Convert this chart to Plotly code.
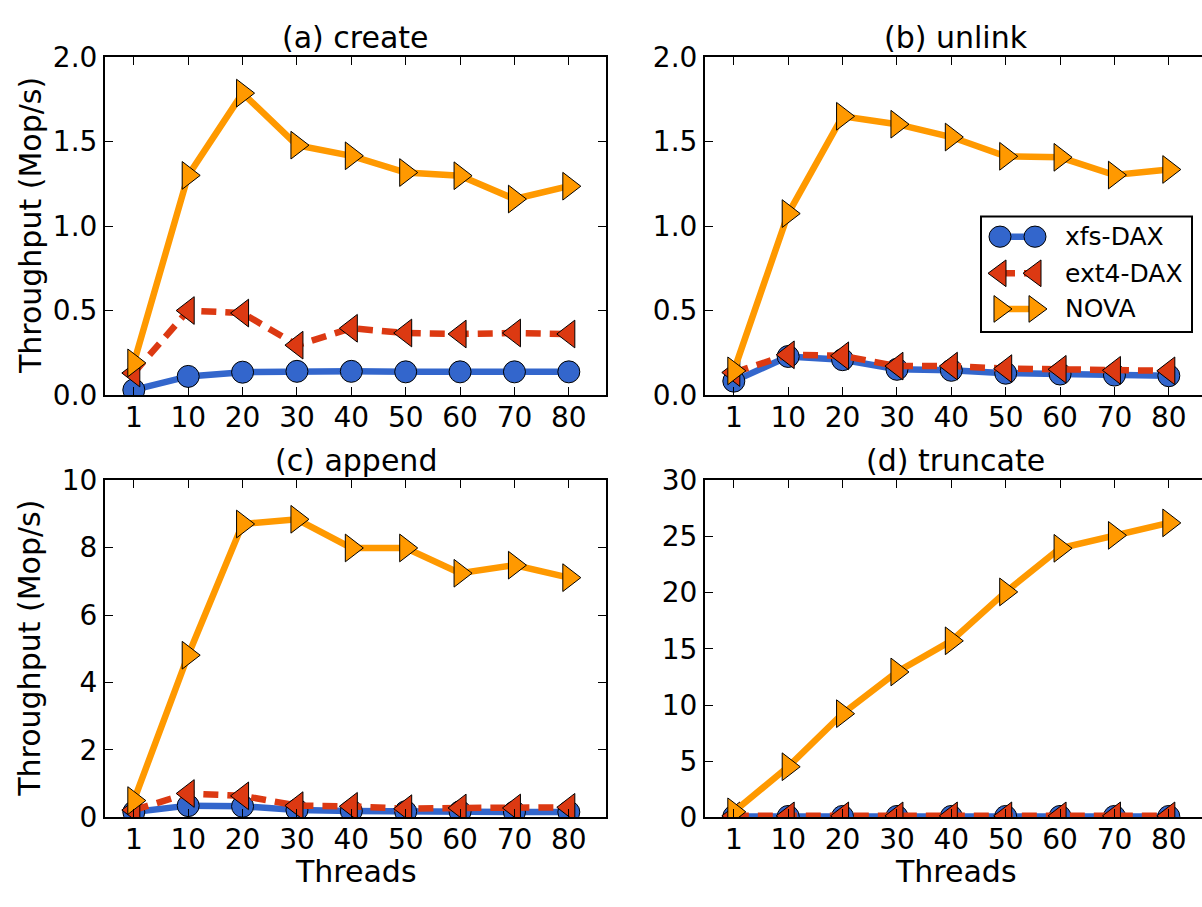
import plotly.graph_objects as go

# Thread counts on the x axis (drawn as evenly spaced categories)
threads = ["1", "10", "20", "30", "40", "50", "60", "70", "80"]

# Throughput in Mop/s
create_xfs = [0.03, 0.11, 0.135, 0.14, 0.14, 0.137, 0.137, 0.137, 0.137]
create_ext4 = [0.13, 0.50, 0.485, 0.295, 0.395, 0.367, 0.361, 0.367, 0.361]
create_nova = [0.19, 1.30, 1.787, 1.479, 1.416, 1.317, 1.298, 1.16, 1.236]

unlink_xfs = [0.082, 0.228, 0.209, 0.152, 0.146, 0.129, 0.124, 0.118, 0.114]
unlink_ext4 = [0.133, 0.238, 0.232, 0.171, 0.171, 0.156, 0.152, 0.146, 0.143]
unlink_nova = [0.143, 1.074, 1.65, 1.603, 1.527, 1.413, 1.407, 1.302, 1.335]

append_xfs = [0.16, 0.35, 0.33, 0.22, 0.19, 0.17, 0.17, 0.16, 0.16]
append_ext4 = [0.22, 0.71, 0.64, 0.35, 0.33, 0.26, 0.28, 0.28, 0.30]
append_nova = [0.50, 4.81, 8.70, 8.84, 7.99, 7.99, 7.24, 7.48, 7.11]

truncate_xfs = [0.09, 0.09, 0.09, 0.09, 0.09, 0.09, 0.09, 0.09, 0.09]
truncate_ext4 = [0.14, 0.14, 0.14, 0.14, 0.14, 0.14, 0.14, 0.14, 0.14]
truncate_nova = [0.50, 4.51, 9.23, 12.94, 15.71, 20.06, 23.94, 25.09, 26.20]

panel_titles = ["(a) create", "(b) unlink", "(c) append", "(d) truncate"]
series_names = ["xfs-DAX", "ext4-DAX", "NOVA"]

panels = [
    (create_xfs, create_ext4, create_nova),
    (unlink_xfs, unlink_ext4, unlink_nova),
    (append_xfs, append_ext4, append_nova),
    (truncate_xfs, truncate_ext4, truncate_nova),
]
y_ticks = [
    [0.0, 0.5, 1.0, 1.5, 2.0],
    [0.0, 0.5, 1.0, 1.5, 2.0],
    [0, 2, 4, 6, 8, 10],
    [0, 5, 10, 15, 20, 25, 30],
]

W, H = 1202, 907
FONT = "DejaVu Sans"
BLUE, RED, ORANGE = "#3366CC", "#DC3912", "#FF9900"
LW = 6.5
DASH = "15px,9px"
CIRCLE_SIZE = 22
TRI_SIZE = 24
TICK_FONT = 28
TITLE_FONT = 30
LABEL_FONT = 30
LEGEND_FONT = 25


def fx(px):
    return px / W


def fy(py):
    return 1 - py / H


# pixel boxes of the four axes: (left, right, top, bottom)
boxes = [
    (105, 606, 42.7, 393.3),
    (705, 1202, 42.7, 393.3),
    (105, 606, 481.7, 831.7),
    (705, 1202, 481.7, 831.7),
]
PANEL_W = 501
PX_PER_CAT = 54.375
X_START = -0.53

styles = [
    dict(color=BLUE, dash="solid", symbol="circle", size=CIRCLE_SIZE),
    dict(color=RED, dash=DASH, symbol="triangle-left", size=TRI_SIZE),
    dict(color=ORANGE, dash="solid", symbol="triangle-right", size=TRI_SIZE),
]

fig = go.Figure()
layout = dict(
    width=W, height=H,
    margin=dict(l=0, r=0, t=0, b=0),
    paper_bgcolor="white", plot_bgcolor="white",
    showlegend=False,
    font=dict(family=FONT, color="black"),
)

axis_common = dict(
    showline=True, linecolor="black", linewidth=2,
    ticks="inside", ticklen=8, tickwidth=1, tickcolor="black",
    showgrid=False, zeroline=False,
    tickfont=dict(family=FONT, size=TICK_FONT, color="black"),
)

extra_axis = 5
for i, (series, ticks, box) in enumerate(zip(panels, y_ticks, boxes)):
    n = i + 1
    xa = "x" if n == 1 else f"x{n}"
    ya = "y" if n == 1 else f"y{n}"
    for vals, name, st in zip(series, series_names, styles):
        fig.add_trace(go.Scatter(
            x=threads, y=vals, name=name, mode="lines+markers",
            xaxis=xa, yaxis=ya,
            line=dict(color=st["color"], width=LW, dash=st["dash"]),
            marker=dict(symbol=st["symbol"], size=st["size"], color=st["color"],
                        line=dict(color="black", width=1)),
        ))
    left, right, top, bottom = box
    x_end = X_START + (right - left) / PX_PER_CAT
    clipped = right >= W
    layout[f"xaxis{'' if n == 1 else n}"] = dict(
        domain=[fx(left), fx(right)], anchor=ya, type="category",
        range=[X_START, x_end], mirror="allticks", ticklabelstandoff=-4,
        **axis_common,
    )
    yfmt = ".1f" if ticks[-1] <= 2 else "d"
    layout[f"yaxis{'' if n == 1 else n}"] = dict(
        domain=[fy(bottom), fy(top)], anchor=xa,
        range=[ticks[0], ticks[-1]],
        tickmode="array", tickvals=ticks, tickformat=yfmt,
        mirror=False if clipped else "allticks", **axis_common,
    )
    if clipped:
        # the right spine falls just outside the canvas; only the tips of
        # its inward ticks remain visible at the edge
        layout[f"yaxis{extra_axis}"] = dict(
            overlaying=ya, side="right", anchor=xa,
            range=[ticks[0], ticks[-1]],
            tickmode="array", tickvals=ticks,
            showline=False, showgrid=False, zeroline=False,
            ticks="inside", ticklen=4, tickwidth=1, tickcolor="black",
            showticklabels=False,
        )
        extra_axis += 1

annotations = []
shapes = []
for title, box in zip(panel_titles, boxes):
    left, right, top, bottom = box
    cx = left + PANEL_W / 2
    annotations.append(dict(
        text=title, x=fx(cx), y=fy(top - 20), xref="paper", yref="paper",
        xanchor="center", yanchor="middle", showarrow=False,
        font=dict(family=FONT, size=TITLE_FONT, color="black"),
    ))
    if left < 200:
        annotations.append(dict(
            text="Throughput (Mop/s)", x=fx(30), y=fy((top + bottom) / 2),
            xref="paper", yref="paper", textangle=-90,
            xanchor="center", yanchor="middle", showarrow=False,
            font=dict(family=FONT, size=LABEL_FONT, color="black"),
        ))
    if top > 400:
        annotations.append(dict(
            text="Threads", x=fx(cx), y=0, xref="paper", yref="paper",
            xanchor="center", yanchor="bottom", showarrow=False, borderpad=0,
            font=dict(family=FONT, size=LABEL_FONT, color="black"),
        ))

# Legend box inside panel (b), with two markers per entry
shapes.append(dict(type="rect", xref="paper", yref="paper",
                   x0=fx(981), x1=fx(1192), y0=fy(328), y1=fy(208),
                   line=dict(color="black", width=2), fillcolor="white",
                   layer="above"))
row_y = [229, 267, 304]
mk_x = [1000, 1035]


def triangle_path(cx, cy, size, pointing_left):
    r = size / 2
    rt = r * 2 / 3 ** 0.5
    tip = -r if pointing_left else r
    base = r / 2 if pointing_left else -r / 2
    pts = [(cx + tip, cy), (cx + base, cy - rt), (cx + base, cy + rt)]
    return "M " + " L ".join(f"{fx(px):.6f},{fy(py):.6f}" for px, py in pts) + " Z"


for name, st, yy in zip(series_names, styles, row_y):
    shapes.append(dict(type="line", xref="paper", yref="paper",
                       x0=fx(mk_x[0]), x1=fx(mk_x[1]), y0=fy(yy), y1=fy(yy),
                       line=dict(color=st["color"], width=LW, dash=st["dash"]),
                       layer="above"))
    for mx in mk_x:
        if st["symbol"] == "circle":
            r = st["size"] / 2
            shapes.append(dict(type="circle", xref="paper", yref="paper",
                               x0=fx(mx - r), x1=fx(mx + r), y0=fy(yy + r), y1=fy(yy - r),
                               fillcolor=st["color"], line=dict(color="black", width=1),
                               layer="above"))
        else:
            shapes.append(dict(type="path", xref="paper", yref="paper",
                               path=triangle_path(mx, yy, st["size"],
                                                  st["symbol"] == "triangle-left"),
                               fillcolor=st["color"], line=dict(color="black", width=1),
                               layer="above"))
    annotations.append(dict(
        text=name, x=fx(1063), y=fy(yy), xref="paper", yref="paper",
        xanchor="left", yanchor="middle", showarrow=False,
        font=dict(family=FONT, size=LEGEND_FONT, color="black"),
    ))

layout["annotations"] = annotations
layout["shapes"] = shapes
fig.update_layout(**layout)
fig.write_html("out.html")
